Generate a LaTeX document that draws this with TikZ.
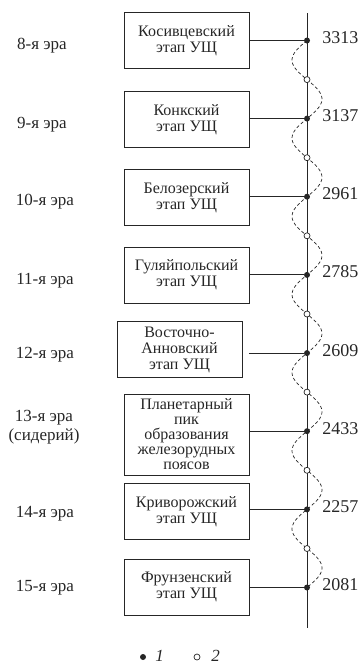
\documentclass[tikz,border=0pt]{standalone}
\usepackage{fontspec}
\setmainfont{Liberation Serif}
\newfontfamily\rufont{Liberation Serif}
\usetikzlibrary{positioning}
\definecolor{inkgray}{HTML}{262626}

\begin{document}
\begin{tikzpicture}[
    x=1pt, y=-1pt,
    every node/.style={text=inkgray},
    stagebox/.style={draw=inkgray, line width=0.9pt, minimum width=125pt,
      minimum height=56pt, align=center, inner sep=2pt,
      font=\rufont\fontsize{16}{16}\selectfont},
    eralabel/.style={font=\rufont\fontsize{17}{19}\selectfont, align=center,
      inner sep=0pt},
    agelabel/.style={font=\rufont\fontsize{18}{18}\selectfont, anchor=west,
      inner sep=0pt},
    dotone/.style={circle, fill=inkgray, inner sep=0pt, minimum size=6pt},
    dottwo/.style={circle, draw=inkgray, fill=white, inner sep=0pt,
      minimum size=6pt, line width=0.7pt},
    line width=0.9pt,
  ]

  % Frame of the page
  \useasboundingbox (0,0) rectangle (361,664);

  %%% ============================================================ %%%
  %%% Time axis with the dashed wave                               %%%
  %%% ============================================================ %%%
  \coordinate (axtop) at (307,13);
  \coordinate (axbot) at (307,628);
  \draw[inkgray] (axtop) -- (axbot);

  % Wave: left loop after each filled point, right loop after each open one
  % half period 39.07pt -> 180/39.07 = 4.6071 deg per pt
  \draw[inkgray, line width=0.7pt, dash pattern=on 3.2pt off 2.4pt]
    plot[variable=\t, domain=40.5:587.5, samples=240, smooth]
    ({307-15*sin(4.6071*(\t-40.5))}, {\t});

  % Stage points (1)
  \node[dotone] (d1) at (307,40.5) {};
  \node[dotone] (d2) at (307,118.6) {};
  \node[dotone] (d3) at (307,196.7) {};
  \node[dotone] (d4) at (307,274.9) {};
  \node[dotone] (d5) at (307,353.1) {};
  \node[dotone] (d6) at (307,431.2) {};
  \node[dotone] (d7) at (307,509.4) {};
  \node[dotone] (d8) at (307,587.5) {};

  % Intermediate points (2)
  \node[dottwo] (m1) at (307,79.6) {};
  \node[dottwo] (m2) at (307,157.7) {};
  \node[dottwo] (m3) at (307,235.8) {};
  \node[dottwo] (m4) at (307,314.0) {};
  \node[dottwo] (m5) at (307,392.1) {};
  \node[dottwo] (m6) at (307,470.3) {};
  \node[dottwo] (m7) at (307,548.5) {};

  % Ages, Ma
  \node[agelabel] (a1) at (322,37.5) {3313};
  \node[agelabel] (a2) at (322,115.6) {3137};
  \node[agelabel] (a3) at (322,193.7) {2961};
  \node[agelabel] (a4) at (322,271.9) {2785};
  \node[agelabel] (a5) at (322,350.1) {2609};
  \node[agelabel] (a6) at (322,428.2) {2433};
  \node[agelabel] (a7) at (322,506.4) {2257};
  \node[agelabel] (a8) at (322,584.5) {2081};

  %%% ============================================================ %%%
  %%% Stages of iron accumulation                                  %%%
  %%% ============================================================ %%%
  \node[stagebox] (b1) at (186.5,40.5) {Косивцевский\\этап УЩ};
  \node[stagebox] (b2) at (186.5,119.5) {Конкский\\этап УЩ};
  \node[stagebox] (b3) at (186.5,197.5) {Белозерский\\этап УЩ};
  \node[stagebox] (b4) at (186.5,275) {Гуляйпольский\\этап УЩ};
  \node[stagebox] (b5) at (179.5,349.5) {Восточно-\\Анновский\\этап УЩ};
  \node[stagebox, minimum height=81pt, font=\rufont\fontsize{16}{15}\selectfont]
    (b6) at (186.5,434.5)
    {Планетарный\\пик\\образования\\железорудных\\поясов};
  \node[stagebox] (b7) at (186.5,511.5) {Криворожский\\этап УЩ};
  \node[stagebox] (b8) at (186.5,587) {Фрунзенский\\этап УЩ};

  % Links to the axis
  \draw[inkgray] (b1.east |- d1) -- (d1);
  \draw[inkgray] (b2.east |- d2) -- (d2);
  \draw[inkgray] (b3.east |- d3) -- (d3);
  \draw[inkgray] (b4.east |- d4) -- (d4);
  \draw[inkgray] ([xshift=6.5pt]b5.east |- d5) -- (d5);
  \draw[inkgray] (b6.east |- d6) -- (d6);
  \draw[inkgray] (b7.east |- d7) -- (d7);
  \draw[inkgray] (b8.east |- d8) -- (d8);

  %%% ============================================================ %%%
  %%% Eras                                                         %%%
  %%% ============================================================ %%%
  \node[eralabel] (e1) at (42,46) {8-я эра};
  \node[eralabel] (e2) at (42,124.5) {9-я эра};
  \node[eralabel] (e3) at (45,201.5) {10-я эра};
  \node[eralabel] (e4) at (45,280.5) {11-я эра};
  \node[eralabel] (e5) at (45,354.5) {12-я эра};
  \node[eralabel] (e6) at (44,427) {13-я эра\\(сидерий)};
  \node[eralabel] (e7) at (45,513.5) {14-я эра};
  \node[eralabel] (e8) at (45,588) {15-я эра};

  % Legend
  \node[dotone] (l1) at (143,657) {};
  \node[agelabel, font=\rufont\fontsize{17}{17}\itshape] (t1) at (155,656) {1};
  \node[dottwo] (l2) at (197,657) {};
  \node[agelabel, font=\rufont\fontsize{17}{17}\itshape] (t2) at (211,656) {2};

\end{tikzpicture}
\end{document}
